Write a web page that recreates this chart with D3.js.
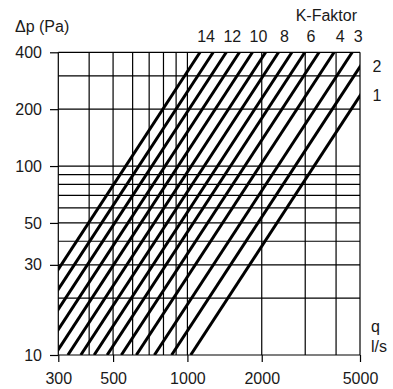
<!DOCTYPE html>
<html>
<head>
  <meta charset="utf-8">
  <script src="https://d3js.org/d3.v7.min.js"></script>
  <style>
  body {
    margin: 0;
    background: #fff;
  }
  text {
    font-family: "Liberation Sans", Arial, sans-serif;
    font-size: 16px;
    fill: #1a1a1a;
  }
  .grid line {
    stroke: #000;
    stroke-width: 1.2;
  }
  .axis path {
    display: none;
  }
  .axis line {
    stroke: #000;
    stroke-width: 1.2;
  }
  .kline {
    fill: none;
    stroke: #000;
    stroke-width: 3;
  }
</style>
</head>
<body>
<script>

  // tick labels and grid positions
  var qTicks = [300, 500, 1000, 2000, 5000];
  var pTicks = [10, 30, 50, 100, 200, 400];
  var qGrid = [300, 400, 500, 600, 700, 800, 900, 1000, 2000, 3000, 4000, 5000];
  var pGrid = [10, 20, 30, 40, 50, 60, 70, 80, 90, 100, 200, 300, 400];

  // K-Faktor curves: flow (l/s) at 10 Pa and at 400 Pa
  var kFactor  = [14, 13, 12, 11, 10, 9, 8, 7, 6, 5, 4, 3, 2, 1];
  var qAt10Pa  = [178, 201, 227, 257, 290, 328, 370, 419, 473, 540, 621, 735, 863, 1031];
  var qAt400Pa = [1125, 1272, 1437, 1625, 1834, 2075, 2340, 2650, 2990, 3415, 3928, 4650, 5459, 6519];
  var kTopLabels = [14, 12, 10, 8, 6, 4, 3];
  var kSideLabels = [2, 1];

  var margin = {top: 52.3, right: 33, bottom: 34, left: 58.3},
    width = 393 - margin.left - margin.right,
    height = 389 - margin.top - margin.bottom;

  var svg = d3.select("body").append("svg")
    .attr("width", 393)
    .attr("height", 389);

  var g = svg.append("g")
    .attr("transform", "translate(" + margin.left + "," + margin.top + ")");

  var x = d3.scaleLog().domain([300, 5000]).range([0, width]);
  var y = d3.scaleLog().domain([10, 400]).range([height, 0]);

  g.append("defs").append("clipPath")
    .attr("id", "plot")
    .append("rect")
    .attr("width", width)
    .attr("height", height);

  // grid
  var grid = g.append("g").attr("class", "grid");
  grid.selectAll(".v")
    .data(qGrid)
    .enter().append("line")
    .attr("x1", d => x(d)).attr("x2", d => x(d))
    .attr("y1", 0).attr("y2", height);
  grid.selectAll(".h")
    .data(pGrid)
    .enter().append("line")
    .attr("x1", 0).attr("x2", width)
    .attr("y1", d => y(d)).attr("y2", d => y(d));

  // axes
  g.append("g")
    .attr("class", "x axis")
    .attr("transform", "translate(0," + height + ")")
    .call(d3.axisBottom(x).tickValues(qTicks).tickFormat(d3.format("d")).tickSize(7).tickPadding(10.3));

  g.append("g")
    .attr("class", "y axis")
    .call(d3.axisLeft(y).tickValues(pTicks).tickFormat(d3.format("d")).tickSize(8.3).tickPadding(8));

  g.selectAll(".axis text").style("font-size", "16px").attr("fill", "#1a1a1a");

  // K lines
  g.append("g")
    .attr("clip-path", "url(#plot)")
    .selectAll(".kline")
    .data(kFactor)
    .enter().append("line")
    .attr("class", "kline")
    .attr("x1", (d, i) => x(qAt10Pa[i]))
    .attr("y1", y(10))
    .attr("x2", (d, i) => x(qAt400Pa[i]))
    .attr("y2", y(400));

  // labels
  g.selectAll(".ktop")
    .data(kTopLabels)
    .enter().append("text")
    .attr("text-anchor", "middle")
    .attr("x", d => x(qAt400Pa[kFactor.indexOf(d)]) + 6)
    .attr("y", -10.5)
    .text(d => d);

  // pressure of a line at the right border
  function pAtRight(k) {
    var i = kFactor.indexOf(k);
    var t = (Math.log(5000) - Math.log(qAt10Pa[i])) / (Math.log(qAt400Pa[i]) - Math.log(qAt10Pa[i]));
    return Math.exp(Math.log(10) + t * (Math.log(400) - Math.log(10)));
  }

  g.selectAll(".kside")
    .data(kSideLabels)
    .enter().append("text")
    .attr("text-anchor", "middle")
    .attr("x", width + 17)
    .attr("y", d => y(pAtRight(d)) + 5.5)
    .text(d => d);

  svg.append("text")
    .attr("x", 15).attr("y", 31.5)
    .text("Δp (Pa)");

  svg.append("text")
    .attr("x", 357).attr("y", 21)
    .attr("text-anchor", "end")
    .text("K-Faktor");

  svg.append("text")
    .attr("x", 371).attr("y", 332)
    .text("q");

  svg.append("text")
    .attr("x", 371).attr("y", 351.5)
    .text("l/s");

</script>
</body>
</html>
